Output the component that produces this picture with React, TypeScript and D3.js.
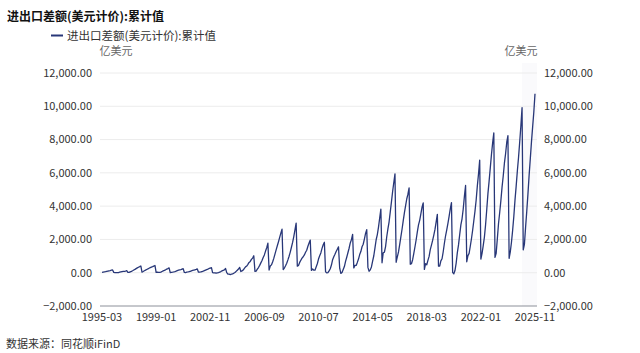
import React, { useEffect, useRef } from 'react';
import * as d3 from 'd3';

// 进出口差额(美元计价):累计值, monthly, 1995-03 .. 2025-11 (亿美元)
const startYear = 1995;
const startMonth = 3;

const tradeBalance: number[] = [
  20, 35, 50, 65, 85, 100, 115, 130, 150, 167, // 1995 (Mar-Dec)
  20, 10, 5, 0, 10, 30, 50, 65, 75, 85, 100, 122, // 1996
  15, 25, 55, 85, 120, 160, 200, 245, 290, 330, 365, 404, // 1997
  40, 75, 115, 155, 195, 230, 270, 305, 335, 365, 400, 435, // 1998
  25, 35, 20, 15, 35, 75, 110, 140, 175, 215, 250, 292, // 1999
  10, 25, 35, 50, 70, 95, 125, 150, 170, 190, 215, 241, // 2000
  15, 10, 35, 45, 60, 85, 110, 135, 155, 175, 195, 225, // 2001
  30, 35, 45, 70, 95, 125, 160, 190, 220, 255, 280, 304, // 2002
  10, -10, -10, -30, -10, 10, 35, 70, 110, 140, 170, 255, // 2003
  5, -80, -85, -110, -90, -70, -30, 10, 80, 150, 220, 321, // 2004
  70, 110, 160, 260, 350, 400, 505, 620, 680, 800, 880, 1020, // 2005
  80, 100, 210, 310, 440, 590, 730, 920, 1070, 1300, 1500, 1775, // 2006
  160, 400, 470, 640, 860, 1120, 1370, 1620, 1860, 2120, 2380, 2622, // 2007
  190, 280, 420, 570, 770, 990, 1240, 1530, 1820, 2170, 2570, 2981, // 2008
  390, 440, 620, 750, 880, 960, 1070, 1230, 1350, 1590, 1780, 1961, // 2009
  140, 220, 150, 150, 340, 540, 820, 1020, 1190, 1460, 1680, 1831, // 2010
  60, -10, 0, 110, 240, 460, 780, 960, 1110, 1270, 1410, 1551, // 2011
  270, -40, 10, 190, 370, 680, 930, 1200, 1470, 1790, 1990, 2303, // 2012
  290, 440, 440, 620, 820, 1090, 1270, 1560, 1710, 2020, 2360, 2592, // 2013
  320, 90, 170, 350, 700, 1020, 1490, 1980, 2290, 2740, 3290, 3825, // 2014
  600, 1200, 1230, 1570, 2160, 2630, 3060, 3660, 4260, 4880, 5420, 5939, // 2015
  630, 950, 1250, 1690, 2150, 2610, 3110, 3600, 4010, 4430, 4720, 5097, // 2016
  510, 540, 780, 1160, 1560, 1980, 2450, 2870, 3150, 3540, 3940, 4196, // 2017
  200, 540, 480, 740, 980, 1390, 1660, 1940, 2260, 2600, 3050, 3509, // 2018
  390, 400, 710, 840, 1260, 1770, 2220, 2570, 2960, 3390, 3840, 4211, // 2019
  20, -70, 130, 580, 1210, 1670, 2290, 2870, 3240, 3830, 4590, 5240, // 2020
  660, 1030, 1160, 1590, 2040, 2550, 3120, 3700, 4370, 5220, 5940, 6764, // 2021
  820, 1160, 1630, 2140, 2880, 3800, 4750, 5500, 6300, 7100, 7800, 8400, // 2022
  920, 1170, 2050, 2960, 3620, 4330, 5140, 5810, 6580, 7150, 7840, 8232, // 2023
  865, 1250, 1830, 2550, 3380, 4360, 5200, 6110, 6920, 7850, 8830, 9921, // 2024
  1380, 1700, 2730, 3690, 4720, 5860, 6840, 7860, 8760, 9660, 10758, // 2025 (Jan-Nov)
];

const xTickLabels = ['1995-03', '1999-01', '2002-11', '2006-09', '2010-07', '2014-05', '2018-03', '2022-01', '2025-11'];
const yTicks = [-2000, 0, 2000, 4000, 6000, 8000, 10000, 12000];

const title = '进出口差额(美元计价):累计值';
const seriesName = '进出口差额(美元计价):累计值';
const unit = '亿美元';
const source = '数据来源：同花顺iFinD';

const W = 640;
const H = 353;
const FONT = '"Noto Sans CJK SC", "Noto Sans", sans-serif';
const LINE_COLOR = '#283778';

function monthLabel(i: number) {
  const m = startMonth - 1 + i;
  const y = startYear + Math.floor(m / 12);
  const mm = (m % 12) + 1;
  return `${y}-${mm < 10 ? '0' + mm : mm}`;
}

export default function App() {
  const svgRef = useRef<SVGSVGElement>(null);

  useEffect(() => {
    const svg = d3.select(svgRef.current);
    svg.selectAll('*').remove();

    const plotLeft = 100;
    const plotRight = 537;

    const dates = tradeBalance.map((_, i) => monthLabel(i));

    const x = d3.scalePoint<string>()
      .domain(dates)
      .range([102, 535]);

    const y = d3.scaleLinear()
      .domain([-2000, 12000])
      .range([306, 73]);

    svg.append('rect')
      .attr('width', W)
      .attr('height', H)
      .attr('fill', '#ffffff');

    // very faint highlight band near the latest data
    svg.append('rect')
      .attr('x', 522)
      .attr('y', y(12000) - 10)
      .attr('width', plotRight - 522)
      .attr('height', y(-2000) - y(12000) + 10)
      .attr('fill', '#fafafc');

    // grid lines
    svg.append('g')
      .selectAll('line')
      .data(yTicks.filter(t => t !== -2000))
      .join('line')
      .attr('x1', plotLeft)
      .attr('x2', plotRight)
      .attr('y1', d => y(d))
      .attr('y2', d => y(d))
      .attr('stroke', '#ececec')
      .attr('stroke-width', 1);

    // bottom axis line
    svg.append('line')
      .attr('x1', plotLeft)
      .attr('x2', plotRight)
      .attr('y1', y(-2000))
      .attr('y2', y(-2000))
      .attr('stroke', '#8c9099')
      .attr('stroke-width', 1);

    const fmt = d3.format(',.2f');

    // left axis labels
    svg.append('g')
      .selectAll('text')
      .data(yTicks)
      .join('text')
      .attr('x', 92)
      .attr('y', d => y(d))
      .attr('dy', '0.35em')
      .attr('text-anchor', 'end')
      .attr('font-size', 11)
      .attr('fill', '#333')
      .text(d => fmt(d));

    // right axis labels
    svg.append('g')
      .selectAll('text')
      .data(yTicks)
      .join('text')
      .attr('x', 544)
      .attr('y', d => y(d))
      .attr('dy', '0.35em')
      .attr('text-anchor', 'start')
      .attr('font-size', 11)
      .attr('fill', '#333')
      .text(d => fmt(d));

    // x axis labels
    svg.append('g')
      .selectAll('text')
      .data(xTickLabels)
      .join('text')
      .attr('x', d => x(d) as number)
      .attr('y', 321)
      .attr('text-anchor', 'middle')
      .attr('font-size', 11)
      .attr('fill', '#333')
      .text(d => d);

    // series line
    const line = d3.line<number>()
      .x((_, i) => x(dates[i]) as number)
      .y(d => y(d));

    svg.append('path')
      .datum(tradeBalance)
      .attr('d', line)
      .attr('fill', 'none')
      .attr('stroke', LINE_COLOR)
      .attr('stroke-width', 1.3)
      .attr('stroke-linejoin', 'round');

    // title
    svg.append('text')
      .attr('x', 7)
      .attr('y', 21)
      .attr('font-size', 12)
      .attr('font-weight', 'bold')
      .attr('fill', '#111')
      .text(title);

    // legend
    svg.append('line')
      .attr('x1', 51)
      .attr('x2', 63)
      .attr('y1', 35.5)
      .attr('y2', 35.5)
      .attr('stroke', LINE_COLOR)
      .attr('stroke-width', 2);
    svg.append('text')
      .attr('x', 67)
      .attr('y', 40)
      .attr('font-size', 11.5)
      .attr('fill', '#333')
      .text(seriesName);

    // units
    svg.append('text')
      .attr('x', 116)
      .attr('y', 55)
      .attr('text-anchor', 'middle')
      .attr('font-size', 11)
      .attr('fill', '#666')
      .text(unit);
    svg.append('text')
      .attr('x', 521)
      .attr('y', 55)
      .attr('text-anchor', 'middle')
      .attr('font-size', 11)
      .attr('fill', '#666')
      .text(unit);

    // source
    svg.append('text')
      .attr('x', 6)
      .attr('y', 348)
      .attr('font-size', 11)
      .attr('fill', '#333')
      .text(source);
  }, []);

  return (
    <svg
      ref={svgRef}
      width={W}
      height={H}
      style={{ position: 'absolute', left: 0, top: 0, fontFamily: FONT }}
    />
  );
}
